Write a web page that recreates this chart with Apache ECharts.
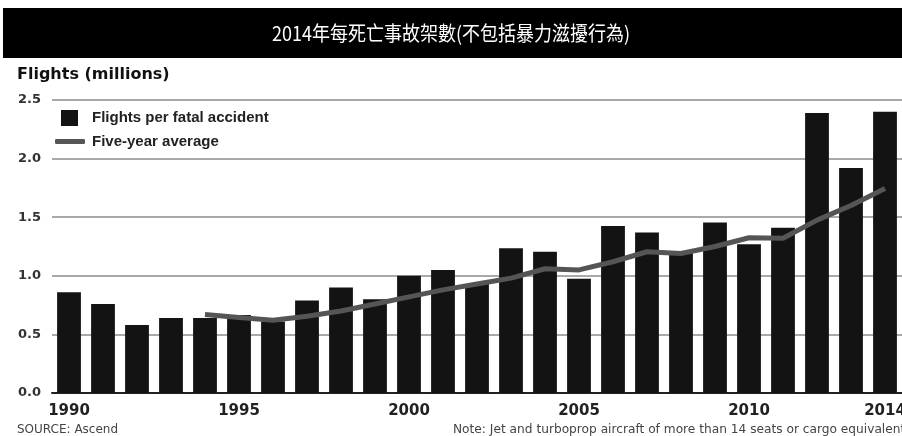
<!DOCTYPE html>
<html>
<head>
<meta charset="utf-8">
<script src="https://cdn.jsdelivr.net/npm/echarts@6/dist/echarts.min.js"></script>
<style>
  html, body { margin: 0; padding: 0; background: #fff; }
  #chart { width: 902px; height: 436px; }
</style>
</head>
<body>
<div id="chart"></div>
<script>
const years = ['1990', '1991', '1992', '1993', '1994', '1995', '1996', '1997', '1998', '1999',
  '2000', '2001', '2002', '2003', '2004', '2005', '2006', '2007', '2008', '2009',
  '2010', '2011', '2012', '2013', '2014']
// flights per fatal accident, millions
const flights = [0.86, 0.76, 0.58, 0.64, 0.64, 0.665, 0.61, 0.79, 0.90, 0.80,
  1.00, 1.05, 0.93, 1.235, 1.205, 0.975, 1.425, 1.37, 1.21, 1.455,
  1.27, 1.41, 2.39, 1.92, 2.40]
// five-year average, starts in 1994
const fiveYearAvg = [null, null, null, null, 0.67, 0.645, 0.62, 0.655, 0.70, 0.76,
  0.82, 0.88, 0.93, 0.98, 1.06, 1.05, 1.12, 1.205, 1.19, 1.25,
  1.325, 1.32, 1.475, 1.60, 1.745]
const shownYears = ['1990', '1995', '2000', '2005', '2010', '2014']

const barName = 'Flights per fatal accident'
const lineName = 'Five-year average'

const myChart = echarts.init(document.getElementById('chart'))

const option = {
  backgroundColor: '#fff',
  animation: false,
  /* 不让 v6 自动收缩网格，2014 标签在右边被裁掉 */
  grid: { left: 52, right: 0, top: 100, bottom: 43, outerBoundsMode: 'none' },
  legend: [
    {
      data: [{ name: barName, icon: 'rect' }],
      left: 61, top: 110, padding: 0,
      itemWidth: 17, itemHeight: 16,
      textStyle: { fontFamily: 'Liberation Sans', fontWeight: 'bold', fontSize: 15, color: '#222', padding: [0, 0, 0, 9] }
    },
    {
      data: [{ name: lineName, icon: 'roundRect' }],
      left: 55, top: 134, padding: 0,
      itemWidth: 30, itemHeight: 5,
      textStyle: { fontFamily: 'Liberation Sans', fontWeight: 'bold', fontSize: 15, color: '#222', padding: [0, 0, 0, 2] }
    }
  ],
  xAxis: {
    type: 'category',
    data: years,
    axisTick: { show: false },
    axisLine: { lineStyle: { color: '#222', width: 2 } },
    axisLabel: {
      interval: (i, v) => shownYears.includes(v),
      margin: 11,
      fontFamily: 'DejaVu Sans', fontWeight: 'bold', fontSize: 15, color: '#222'
    }
  },
  yAxis: {
    type: 'value',
    min: 0, max: 2.5, interval: 0.5,
    axisLabel: {
      formatter: v => v.toFixed(1),
      margin: 11,
      fontFamily: 'DejaVu Sans', fontWeight: 'bold', fontSize: 13, color: '#333'
    },
    splitLine: { lineStyle: { color: '#8c8c8c', width: 1.5 } }
  },
  series: [
    {
      name: barName,
      type: 'bar',
      data: flights,
      barCategoryGap: '30%',
      itemStyle: { color: '#131313' }
    },
    {
      name: lineName,
      type: 'line',
      data: fiveYearAvg,
      symbol: 'none',
      lineStyle: { color: '#555', width: 5 },
      itemStyle: { color: '#555' },
      z: 5
    }
  ],
  graphic: [
    { type: 'rect', shape: { x: 3, y: 8, width: 899, height: 50 }, style: { fill: '#000' } },
    {
      type: 'text', x: 451, y: 33, scaleX: 0.9,
      style: {
        text: '2014年每死亡事故架數(不包括暴力滋擾行為)',
        fill: '#fff', font: '20px "Noto Sans CJK TC"',
        textAlign: 'center', textVerticalAlign: 'middle'
      }
    },
    {
      type: 'text', x: 17, y: 67,
      style: { text: 'Flights (millions)', fill: '#111', font: 'bold 16px "DejaVu Sans"' }
    },
    {
      type: 'text', x: 17, y: 424,
      style: { text: 'SOURCE: Ascend', fill: '#444', font: '12px "DejaVu Sans"' }
    },
    {
      type: 'text', x: 453, y: 424,
      style: { text: 'Note: Jet and turboprop aircraft of more than 14 seats or cargo equivalent', fill: '#444', font: '12.2px "DejaVu Sans"' }
    }
  ]
}
option && myChart.setOption(option)
</script>
</body>
</html>
